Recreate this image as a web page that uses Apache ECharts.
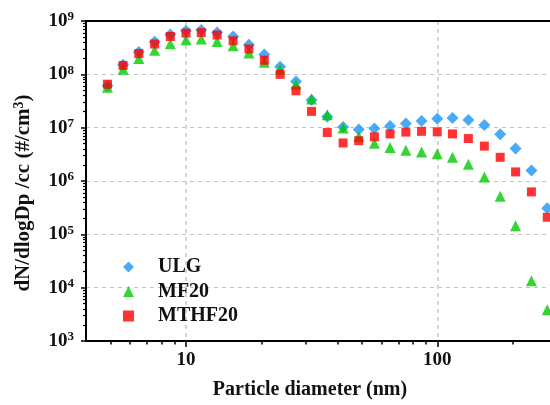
<!DOCTYPE html>
<html><head><meta charset="utf-8">
<script src="https://cdn.jsdelivr.net/npm/echarts@6/dist/echarts.min.js"></script>
<style>html,body{margin:0;padding:0;background:#fff}#c{width:550px;height:405px}</style>
</head><body><div id="c"></div>
<script>
// Particle diameter (nm)
const diameters = [4.87, 5.62, 6.49, 7.50, 8.66, 10.0, 11.5, 13.3, 15.4, 17.8, 20.5, 23.7, 27.4, 31.6, 36.5, 42.2, 48.7, 56.2, 64.9, 75.0, 86.6, 100, 115, 133, 154, 178, 205, 237, 274];
// dN/dlogDp (#/cm3)
const ulg = [6.1e7, 1.51e8, 2.63e8, 4.09e8, 5.58e8, 6.53e8, 6.81e8, 6.07e8, 5.12e8, 3.59e8, 2.35e8, 1.39e8, 7.33e7, 3.30e7, 1.60e7, 1.03e7, 9.2e6, 9.6e6, 1.07e7, 1.20e7, 1.33e7, 1.47e7, 1.51e7, 1.39e7, 1.12e7, 7.5e6, 4.05e6, 1.58e6, 3.1e5];
const mf20 = [5.74e7, 1.24e8, 1.98e8, 2.82e8, 3.75e8, 4.45e8, 4.58e8, 4.14e8, 3.44e8, 2.52e8, 1.69e8, 1.24e8, 6.53e7, 3.44e7, 1.74e7, 9.9e6, 6.8e6, 5.1e6, 4.26e6, 3.78e6, 3.49e6, 3.26e6, 2.78e6, 2.07e6, 1.19e6, 5.2e5, 1.45e5, 1.35e4, 3.86e3];
const mthf20 = [6.53e7, 1.47e8, 2.45e8, 3.70e8, 5.12e8, 5.92e8, 6.07e8, 5.46e8, 4.26e8, 2.99e8, 1.84e8, 1.0e8, 4.91e7, 2.02e7, 8.1e6, 5.16e6, 5.7e6, 6.73e6, 7.64e6, 8.26e6, 8.54e6, 8.36e6, 7.64e6, 6.25e6, 4.51e6, 2.78e6, 1.48e6, 6.25e5, 2.09e5];
const seriesNames = ['ULG', 'MF20', 'MTHF20'];
// Tick values
const xMajorTicks = [10, 100];
const xMinorTicks = [5, 6, 7, 8, 9, 20, 30, 40, 50, 60, 70, 80, 90, 200];
const yMajorTicks = [1e3, 1e4, 1e5, 1e6, 1e7, 1e8, 1e9];
const yMinorMultipliers = [2, 3, 4, 5, 6, 7, 8, 9];

const yMinorTicks = [];
yMajorTicks.slice(0, -1).forEach(d => yMinorMultipliers.forEach(m => yMinorTicks.push(d * m)));

const FONT = '"Liberation Serif", "Times New Roman", serif';
const X_MIN = 4, X_MAX = 281, Y_MIN = 1e3, Y_MAX = 1e9;

const chart = echarts.init(document.getElementById('c'), null, {renderer: 'canvas'});
const pair = arr => diameters.map((d, i) => [d, arr[i]]);

chart.setOption({
  animation: false,
  backgroundColor: '#ffffff',
  grid: {left: 86, right: 0, top: 21, bottom: 60, containLabel: false},
  legend: {
    left: 118, top: 252, orient: 'vertical',
    itemWidth: 11, itemHeight: 11, itemGap: 4.5,
    textStyle: {fontFamily: FONT, fontWeight: 'bold', fontSize: 20, color: '#111', lineHeight: 20, padding: [0, 0, 0, 19]},
    data: seriesNames
  },
  xAxis: [
    {
      type: 'log', logBase: 10, min: X_MIN, max: X_MAX, position: 'bottom',
      name: 'Particle diameter (nm)', nameLocation: 'middle', nameGap: 39,
      nameTextStyle: {fontFamily: FONT, fontWeight: 'bold', fontSize: 20, color: '#111', padding: [0, 16, 0, 0]},
      axisLine: {show: true, lineStyle: {color: '#000', width: 2}},
      axisTick: {show: true, inside: false, length: 6, lineStyle: {color: '#000', width: 1.5}, customValues: xMajorTicks},
      axisLabel: {show: true, margin: 10, customValues: xMajorTicks, formatter: v => String(Math.round(v)),
        fontFamily: FONT, fontWeight: 'bold', fontSize: 19, color: '#111'},
      splitLine: {show: true, lineStyle: {color: '#d4d4d4', width: 2, type: [4, 4]}},
      minorTick: {show: false}
    },
    {
      type: 'log', logBase: 10, min: X_MIN, max: X_MAX, position: 'bottom',
      axisLine: {show: false},
      axisTick: {show: true, inside: false, length: 3.5, lineStyle: {color: '#000', width: 1.5}, customValues: xMinorTicks},
      axisLabel: {show: false},
      splitLine: {show: false}
    },
    {
      type: 'log', logBase: 10, min: X_MIN, max: X_MAX, position: 'top',
      axisLine: {show: true, lineStyle: {color: '#000', width: 2}},
      axisTick: {show: false}, axisLabel: {show: false}, splitLine: {show: false}
    }
  ],
  yAxis: [
    {
      type: 'log', logBase: 10, min: Y_MIN, max: Y_MAX, position: 'left',
      name: '{t|dN/dlogDp /cc (#/cm}{s|3}{t|)}', nameLocation: 'middle', nameGap: 50, nameRotate: 90,
      nameTextStyle: {padding: [0, 24, 0, 0], rich: {
        t: {fontFamily: FONT, fontWeight: 'bold', fontSize: 21, color: '#111', lineHeight: 24},
        s: {fontFamily: FONT, fontWeight: 'bold', fontSize: 14, color: '#111', lineHeight: 14, verticalAlign: 'top'}
      }},
      axisLine: {show: true, lineStyle: {color: '#000', width: 2}},
      axisTick: {show: true, inside: false, length: 5, lineStyle: {color: '#000', width: 1.5}, customValues: yMajorTicks},
      axisLabel: {show: true, margin: 12, customValues: yMajorTicks,
        formatter: v => '{b|10}{s|' + Math.round(Math.log10(v)) + '}',
        rich: {
          b: {fontFamily: FONT, fontWeight: 'bold', fontSize: 19, color: '#111', lineHeight: 21},
          s: {fontFamily: FONT, fontWeight: 'bold', fontSize: 13, color: '#111', lineHeight: 13, verticalAlign: 'top'}
        }},
      splitLine: {show: true, lineStyle: {color: '#c4c4c4', width: 1, type: [4, 4]}}
    },
    {
      type: 'log', logBase: 10, min: Y_MIN, max: Y_MAX, position: 'left',
      axisLine: {show: false},
      axisTick: {show: true, inside: false, length: 3, lineStyle: {color: '#000', width: 1.2}, customValues: yMinorTicks},
      axisLabel: {show: false},
      splitLine: {show: false}
    }
  ],
  series: [
    {name: seriesNames[0], type: 'scatter', symbol: 'diamond', symbolSize: 12,
      itemStyle: {color: '#1c96f2'}, data: pair(ulg), z: 2},
    {name: seriesNames[1], type: 'scatter', symbol: 'triangle', symbolSize: 11,
      itemStyle: {color: '#00cc00'}, data: pair(mf20), z: 3},
    {name: seriesNames[2], type: 'scatter', symbol: 'rect', symbolSize: 9,
      itemStyle: {color: '#ff0000'}, data: pair(mthf20), z: 4}
  ]
});
</script></body></html>
